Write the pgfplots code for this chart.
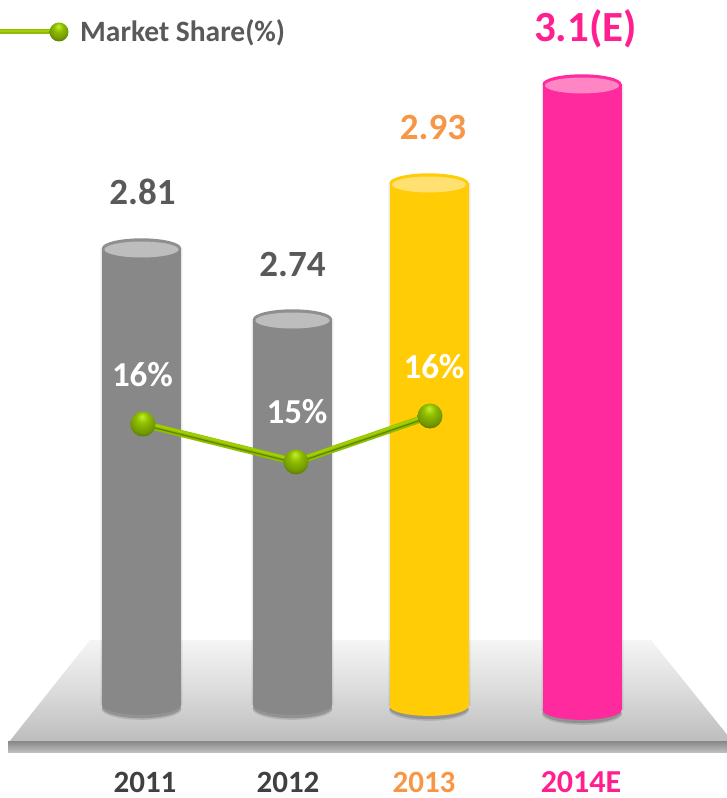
\documentclass[border=0pt]{standalone}
\usepackage{fontspec}
\setmainfont{Carlito}
\usepackage{pgfplots}
\pgfplotsset{compat=1.18}
\definecolor{bargray}{HTML}{888888}
\definecolor{graytop}{HTML}{BDBDBD}
\definecolor{grayrim}{HTML}{8F8F8F}
\definecolor{baryellow}{HTML}{FFCC05}
\definecolor{yellowtop}{HTML}{FFE070}
\definecolor{barpink}{HTML}{FF2A9D}
\definecolor{pinktop}{HTML}{FF85C5}
\definecolor{txtgray}{HTML}{595959}
\definecolor{txtdark}{HTML}{404040}
\definecolor{txtorange}{HTML}{F79646}
\definecolor{txtpink}{HTML}{FF1F8F}
\definecolor{lnmain}{HTML}{8FBE00}
\definecolor{lnlight}{HTML}{A2D000}
\definecolor{lndark}{HTML}{5F8000}
\pgfdeclareradialshading{gb}{\pgfpoint{-2bp}{16bp}}{%
  rgb(0bp)=(.76,.95,.16);rgb(12bp)=(.56,.74,0);rgb(25bp)=(.45,.60,0);rgb(35bp)=(.30,.40,0);rgb(44bp)=(.20,.27,0);rgb(50bp)=(.40,.55,0)}
\pgfdeclareplotmark{gball}{\pgfpathcircle{\pgfpointorigin}{\pgfplotmarksize}\pgfshadepath{gb}{0}\pgfusepath{discard}}
\pgfdeclareplotmark{disc}{\pgfpathcircle{\pgfpointorigin}{\pgfplotmarksize}\pgfusepathqfill}
\newcommand{\tx}[2]{\fontsize{#1}{#1}\selectfont\bfseries #2}
% one cylinder: side walls, lower end and lid; #1 centre x, #2 lid y, #3 lower y, #4 body, #5 rim, #6 lid colour
\newcommand{\cyl}[6]{%
  \pgfmathsetmacro{\xl}{#1-39.5}\pgfmathsetmacro{\xr}{#1+39.5}%
  \pgfmathsetmacro{\xlb}{#1-41.5}\pgfmathsetmacro{\xrb}{#1+41.5}%
  \pgfmathsetmacro{\xlc}{#1-40.5}\pgfmathsetmacro{\xrc}{#1+40.5}%
  \pgfmathsetmacro{\ys}{#3-2.5}\pgfmathsetmacro{\yss}{#3-4}\pgfmathsetmacro{\yi}{#2-1.5}%
  \edef\tmp{%
  \noexpand\addplot[draw=none,fill=black,fill opacity=.04] coordinates {(\xlb,#3)(\xrb,#3)(\xrb,#2)(\xlb,#2)} --cycle;
  \noexpand\addplot[draw=none,fill=black,fill opacity=.05] coordinates {(\xlc,#3)(\xrc,#3)(\xrc,#2)(\xlc,#2)} --cycle;
  \noexpand\addplot[only marks,mark=disc,mark size=40pt,mark options={yscale=.27,fill=black,fill opacity=.12}] coordinates {(#1,\yss)};
  \noexpand\addplot[only marks,mark=disc,mark size=39.5pt,mark options={yscale=.27,fill=black,fill opacity=.18}] coordinates {(#1,\ys)};
  \noexpand\addplot[only marks,mark=disc,mark size=39.5pt,mark options={yscale=.25,fill=#4}] coordinates {(#1,#3)};
  \noexpand\addplot[draw=none,fill=#4] coordinates {(\xl,#3)(\xr,#3)(\xr,#2)(\xl,#2)} --cycle;
  \noexpand\addplot[only marks,mark=disc,mark size=39.5pt,mark options={yscale=.245,fill=#5}] coordinates {(#1,#2)};
  \noexpand\addplot[only marks,mark=disc,mark size=37pt,mark options={yscale=.215,fill=#6}] coordinates {(#1,\yi)};
  }\tmp}
\begin{document}
\begin{tikzpicture}
\useasboundingbox (0,0) rectangle (727pt,798pt);
\begin{axis}[hide axis,scale only axis,width=727pt,height=798pt,
  xmin=0,xmax=727,ymin=0,ymax=798,anchor=south west,at={(0,0)}]
% floor
\addplot[draw=none,top color=black!4,bottom color=black!26,middle color=black!14] coordinates {(90,158)(651,158)(733,56)(9,56)} --cycle;
\addplot[draw=none,top color=black!45,bottom color=black!24] coordinates {(8,56)(727,56)(727,45)(8,45)} --cycle;
% cylinders
\cyl{141.5}{550}{93}{bargray}{grayrim}{graytop}
\cyl{292.5}{479}{93}{bargray}{grayrim}{graytop}
\cyl{429}{615}{92}{baryellow}{baryellow}{yellowtop}
\cyl{582}{714}{88}{barpink}{barpink}{pinktop}
% market share line
\addplot[line width=7pt,color=lnmain,line join=round] coordinates {(143,374)(296,336)(430,382)};
\addplot[line width=2pt,color=lnlight,line join=round] coordinates {(143,376)(296,338)(430,384)};
\addplot[line width=1.2pt,color=lndark,line join=round] coordinates {(143,373)(296,335)(430,381)};
\addplot[only marks,mark=gball,mark size=12.5pt] coordinates {(143,374)(296,336)(430,382)};
% legend
\addplot[line width=5pt,color=lnmain] coordinates {(0,766)(55,766)};
\addplot[line width=1.5pt,color=lnlight] coordinates {(0,767)(55,767)};
\addplot[only marks,mark=gball,mark size=9.5pt] coordinates {(59,766)};
\node[anchor=west,text=txtgray,inner sep=0pt] at (axis cs:80,765) {\tx{29.5}{Market Share(\%)}};
% value labels
\node[text=txtgray,inner sep=0pt] at (axis cs:142.5,606) {\tx{37}{2.81}};
\node[text=txtgray,inner sep=0pt] at (axis cs:292.5,533) {\tx{37}{2.74}};
\node[text=txtorange,inner sep=0pt] at (axis cs:433,670) {\tx{37}{2.93}};
\node[text=txtpink,inner sep=0pt] at (axis cs:585.5,769) {\tx{43}{3.1(E)}};
\node[text=white,inner sep=0pt] at (axis cs:142.5,423) {\tx{35}{16\%}};
\node[text=white,inner sep=0pt] at (axis cs:297,386) {\tx{35}{15\%}};
\node[text=white,inner sep=0pt] at (axis cs:434,431) {\tx{35}{16\%}};
% category labels
\node[text=txtdark,inner sep=0pt] at (axis cs:145,16) {\tx{31}{2011}};
\node[text=txtdark,inner sep=0pt] at (axis cs:288,16) {\tx{31}{2012}};
\node[text=txtorange,inner sep=0pt] at (axis cs:424,15.5) {\tx{31}{2013}};
\node[text=txtpink,inner sep=0pt] at (axis cs:581,15.5) {\tx{32}{2014E}};
\end{axis}
\end{tikzpicture}
\end{document}
